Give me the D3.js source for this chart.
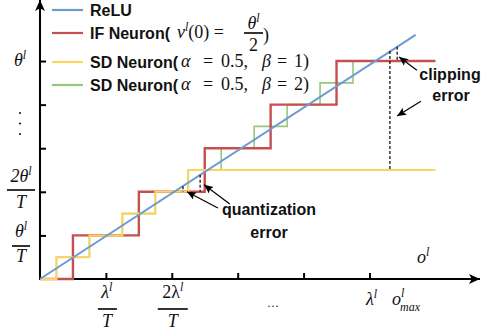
<!DOCTYPE html>
<html lang="en">
<head>
<meta charset="UTF-8">
<title>ReLU vs IF / SD neuron</title>
<style>
  body { margin: 0; background: #fff; }
  .lbl { font-family: "Liberation Sans", Arial, sans-serif; font-weight: bold; font-size: 16px; fill: #111; }
  .m { font-family: "Liberation Serif", "Times New Roman", serif; font-size: 18px; fill: #111; }
</style>
</head>
<body>
<svg id="chart" width="481" height="335"></svg>
<script src="https://d3js.org/d3.v7.min.js"></script>
<script>
// data (x in units of lambda/T, y in units of theta/T)
var reluX = [0, 5.7];
var reluY = [0, 5.6];
var ifX = [0, 0.5, 1.5, 2.5, 3.5, 4.5, 6];
var ifY = [0, 1, 2, 3, 4, 5, 5];
var sd1X = [0, 0.25, 0.75, 1.25, 1.75, 2.25, 6];
var sd1Y = [0, 0.5, 1, 1.5, 2, 2.5, 2.5];
var sd2X = [0, 0.25, 0.75, 1.25, 1.75, 2.25, 2.75, 3.25, 3.75, 4.25, 4.75, 6];
var sd2Y = [0, 0.5, 1, 1.5, 2, 2.5, 3, 3.5, 4, 4.5, 5, 5];
var xTicks = [1, 2, 3, 4, 5];
var yTicks = [1, 2, 3, 4, 5];
var legendNames = ["ReLU", "IF Neuron(", "SD Neuron(", "SD Neuron("];
var colors = ["#6C9BD2", "#C4504F", "#FDD462", "#97C77B"];

// error markers: dotted segments [x, yTop, yBottom]
var quantDots = [[2.17, 2.13, 2.0], [2.43, 2.39, 2.0]];
var clipDots = [[5.31, 5.23, 2.5], [5.42, 5.33, 5.0]];
// annotation arrows [x tail, y tail, x head, y head]
var arrows = [[2.70, 1.63, 2.23, 2.0], [2.88, 1.72, 2.49, 2.16],
              [5.72, 4.79, 5.45, 5.09], [5.78, 4.08, 5.42, 3.74]];

var svg = d3.select("#chart");
var x = d3.scaleLinear().domain([0, 6.65]).range([40, 478.2]);
var y = d3.scaleLinear().domain([0, 6.4]).range([279, 0]);

var defs = svg.append("defs");
defs.append("marker").attr("id", "big").attr("markerUnits", "userSpaceOnUse")
  .attr("viewBox", "0 0 10 10").attr("refX", 10).attr("refY", 5)
  .attr("markerWidth", 11).attr("markerHeight", 11).attr("orient", "auto")
  .append("path").attr("d", "M0,0.5 L10,5 L0,9.5 L2.5,5 Z").attr("fill", "#000");
defs.append("marker").attr("id", "small").attr("markerUnits", "userSpaceOnUse")
  .attr("viewBox", "0 0 10 10").attr("refX", 10).attr("refY", 5)
  .attr("markerWidth", 9).attr("markerHeight", 9).attr("orient", "auto")
  .append("path").attr("d", "M0,0.5 L10,5 L0,9.5 L2,5 Z").attr("fill", "#000");

// axes
svg.append("g").attr("transform", "translate(0," + y(0) + ")")
  .call(d3.axisBottom(x).tickValues(xTicks).tickSize(-6).tickFormat(""))
  .call(function(g) { g.select(".domain").remove(); g.selectAll("line").attr("stroke-width", 2); });
svg.append("g").attr("transform", "translate(" + x(0) + ",0)")
  .call(d3.axisLeft(y).tickValues(yTicks).tickSize(-6).tickFormat(""))
  .call(function(g) { g.select(".domain").remove(); g.selectAll("line").attr("stroke-width", 2); });
svg.append("line").attr("x1", x(0) - 1).attr("y1", y(0)).attr("x2", 480).attr("y2", y(0))
  .attr("stroke", "#000").attr("stroke-width", 2).attr("marker-end", "url(#big)");
svg.append("line").attr("x1", x(0)).attr("y1", y(0) + 1).attr("x2", x(0)).attr("y2", 0)
  .attr("stroke", "#000").attr("stroke-width", 2).attr("marker-end", "url(#big)");

// series
function zip(a, b) { return a.map(function(v, i) { return [v, b[i]]; }); }
var step = d3.line().x(function(d) { return x(d[0]); }).y(function(d) { return y(d[1]); })
  .curve(d3.curveStepAfter);
var straight = d3.line().x(function(d) { return x(d[0]); }).y(function(d) { return y(d[1]); });

svg.append("path").attr("d", step(zip(sd2X, sd2Y))).attr("fill", "none")
  .attr("stroke", colors[3]).attr("stroke-width", 1.6);
svg.append("path").attr("d", step(zip(ifX, ifY))).attr("fill", "none")
  .attr("stroke", colors[1]).attr("stroke-width", 2.4);
svg.append("path").attr("d", step(zip(sd1X, sd1Y))).attr("fill", "none")
  .attr("stroke", colors[2]).attr("stroke-width", 2);
svg.append("path").attr("d", straight(zip(reluX, reluY))).attr("fill", "none")
  .attr("stroke", colors[0]).attr("stroke-width", 2);

// error markers
svg.selectAll(".dots").data(quantDots.concat(clipDots)).enter().append("line")
  .attr("x1", function(d) { return x(d[0]); }).attr("x2", function(d) { return x(d[0]); })
  .attr("y1", function(d) { return y(d[1]); }).attr("y2", function(d) { return y(d[2]); })
  .attr("stroke", "#000").attr("stroke-width", 1.2).attr("stroke-dasharray", "3,2");
svg.selectAll(".arr").data(arrows).enter().append("line")
  .attr("x1", function(d) { return x(d[0]); }).attr("y1", function(d) { return y(d[1]); })
  .attr("x2", function(d) { return x(d[2]); }).attr("y2", function(d) { return y(d[3]); })
  .attr("stroke", "#000").attr("stroke-width", 1.2).attr("marker-end", "url(#small)");

svg.append("text").attr("class", "lbl").attr("x", 269).attr("y", 215).attr("text-anchor", "middle").text("quantization");
svg.append("text").attr("class", "lbl").attr("x", 269).attr("y", 238).attr("text-anchor", "middle").text("error");
svg.append("text").attr("class", "lbl").attr("x", 450).attr("y", 80).attr("text-anchor", "middle").text("clipping");
svg.append("text").attr("class", "lbl").attr("x", 451).attr("y", 101).attr("text-anchor", "middle").text("error");

// math helper: parts = [text, italic?, "sup"/"sub"/"", dx]
function math(px, py, parts, anchor, size) {
  var t = svg.append("text").attr("class", "m").attr("x", px).attr("y", py)
    .attr("text-anchor", anchor || "start");
  if (size) t.style("font-size", size + "px");
  var shift = 0;
  parts.forEach(function(p) {
    var dy = p[2] === "sup" ? -7 : p[2] === "sub" ? 4 : 0;
    var s = t.append("tspan").attr("dy", dy - shift).style("font-style", p[1] ? "italic" : "normal").text(p[0]);
    if (p[2]) s.style("font-size", "12px");
    if (p[3]) s.attr("dx", p[3]);
    shift = dy;
  });
  return t;
}
function bar(x1, x2, by) {
  svg.append("line").attr("x1", x1).attr("x2", x2).attr("y1", by).attr("y2", by)
    .attr("stroke", "#000").attr("stroke-width", 1.6);
}

// legend
var legY = [10, 33, 62, 85];
legendNames.forEach(function(n, i) {
  svg.append("line").attr("x1", 52).attr("x2", 83).attr("y1", legY[i]).attr("y2", legY[i])
    .attr("stroke", colors[i]).attr("stroke-width", 2.2);
  svg.append("text").attr("class", "lbl").attr("x", 90).attr("y", legY[i] + 5.5).text(n);
});
math(177, 38, [["v", 1, ""], ["l", 1, "sup"], ["(0) =", 0, ""]]);
math(253.5, 29, [["θ", 1, ""], ["l", 1, "sup"]], "middle");
bar(244, 263, 33);
math(253.5, 51, [["2", 0, ""]], "middle");
math(263, 41, [[")", 0, ""]]);
[[67, "1"], [90, "2"]].forEach(function(r) {
  math(181, r[0], [["α", 1, ""]]);
  math(203, r[0], [["=", 0, ""]]);
  math(221, r[0], [["0.5,", 0, ""]]);
  math(262, r[0], [["β", 1, ""]]);
  math(277, r[0], [["=", 0, ""]]);
  math(294, r[0], [[r[1], 0, ""]]);
  math(303, r[0], [[")", 0, ""]]);
});

// y labels
math(20, y(5) + 5, [["θ", 1, ""], ["l", 1, "sup"]], "middle");
[113, 123.5, 134].forEach(function(d) {
  svg.append("circle").attr("cx", 20).attr("cy", d).attr("r", 1.1).attr("fill", "#222");
});
math(21, 182, [["2θ", 1, ""], ["l", 1, "sup"]], "middle");
bar(7, 35, 190);
math(21, 208, [["T", 1, ""]], "middle");
math(21, 237, [["θ", 1, ""], ["l", 1, "sup"]], "middle");
bar(12, 30, 246);
math(21, 262, [["T", 1, ""]], "middle");

// x labels
math(x(1) + 1, 298, [["λ", 1, ""], ["l", 1, "sup"]], "middle");
bar(x(1) - 8, x(1) + 11, 309);
math(x(1) + 1, 327, [["T", 1, ""]], "middle");
math(x(2) + 1, 298, [["2λ", 0, ""], ["l", 1, "sup"]], "middle");
bar(x(2) - 14, x(2) + 16, 309);
math(x(2) + 1, 327, [["T", 1, ""]], "middle");
math(273, 310, [["···", 0, ""]], "middle", 12);
math(x(5) + 2, 305, [["λ", 1, ""], ["l", 1, "sup"]], "middle");
math(392, 305, [["o", 1, ""]]);
math(401, 297, [["l", 1, ""]], "start", 12);
math(400, 311, [["max", 1, ""]], "start", 12);
math(417, 263, [["o", 1, ""], ["l", 1, "sup"]]);
</script>
</body>
</html>
